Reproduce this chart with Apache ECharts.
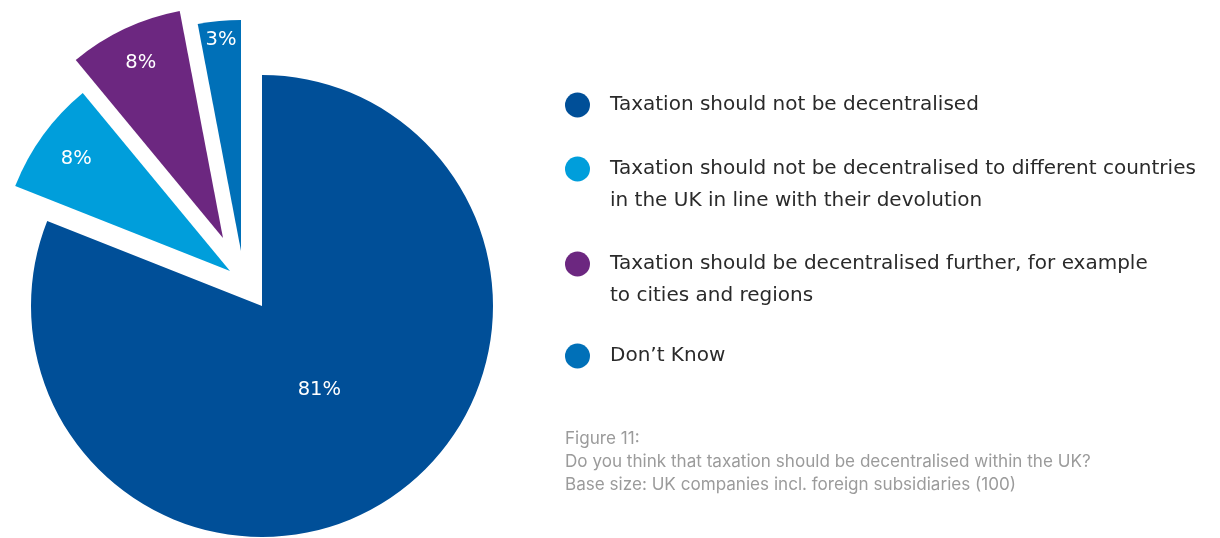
<!DOCTYPE html>
<html>
<head>
<meta charset="utf-8">
<script src="https://cdn.jsdelivr.net/npm/echarts@6/dist/echarts.min.js"></script>
<style>
  html, body { margin: 0; padding: 0; background: #ffffff; }
  #chart { width: 1220px; height: 538px; }
</style>
</head>
<body>
<div id="chart"></div>
<script>
// ---- data ----
const categories = [
  'Taxation should not be decentralised',
  'Taxation should not be decentralised to different countries\nin the UK in line with their devolution',
  'Taxation should be decentralised further, for example\nto cities and regions',
  'Don\u2019t Know'
];
const values = [81, 8, 8, 3];
const captionLines = [
  'Figure 11:',
  'Do you think that taxation should be decentralised within the UK?',
  'Base size: UK companies incl. foreign subsidiaries (100)'
];

// ---- styling / layout ----
const colors = ['#004f98', '#009edb', '#6c2780', '#0070b8'];
const radius = 231;
const centers = [[262, 306], [230, 271], [223, 238], [241, 251]];
const labelDist = [99, 187, 190, 209];
const legendTops = [89, 121, 216, 340];

const total = values.reduce((a, b) => a + b, 0);
function midAngle(idx) {
  let before = 0;
  for (let i = 0; i < idx; i++) before += values[i];
  return (before + values[idx] / 2) / total * 2 * Math.PI; // clockwise from top
}

const series = values.map((v, k) => {
  const theta = midAngle(k);
  const delta = labelDist[k] - radius / 2;
  return {
    type: 'pie',
    silent: true,
    center: centers[k],
    radius: [0, radius],
    startAngle: 90,
    clockwise: true,
    avoidLabelOverlap: false,
    animation: false,
    labelLine: { show: false },
    label: {
      position: 'inside',
      color: '#ffffff',
      fontSize: 19.5,
      fontFamily: 'DejaVu Sans, sans-serif',
      formatter: p => p.value + '%'
    },
    labelLayout: function (params) {
      if (params.dataIndex !== k) return {};
      return { dx: delta * Math.sin(theta), dy: -delta * Math.cos(theta) };
    },
    data: categories.map((name, i) => ({
      name: name,
      value: values[i],
      itemStyle: { color: i === k ? colors[i] : 'rgba(0,0,0,0)' },
      label: { show: i === k }
    }))
  };
});

const legends = categories.map((name, i) => ({
  left: 565,
  top: legendTops[i],
  padding: 0,
  orient: 'vertical',
  selectedMode: false,
  icon: 'circle',
  itemWidth: 25,
  itemHeight: 25,
  data: [{ name: name, itemStyle: { color: colors[i] } }],
  // a leading blank line keeps the marker level with the first text line
  formatter: n => (n.indexOf('\n') >= 0 ? '\n' + n : n),
  textStyle: {
    fontSize: 20,
    fontFamily: 'DejaVu Sans, sans-serif',
    color: '#2a2a2a',
    lineHeight: 32,
    padding: [0, 0, 0, 15]
  }
}));

const chart = echarts.init(document.getElementById('chart'), null, { renderer: 'canvas' });
chart.setOption({
  backgroundColor: '#ffffff',
  animation: false,
  title: {
    text: captionLines.join('\n'),
    left: 565,
    top: 427,
    padding: 0,
    textStyle: {
      fontSize: 17.1,
      fontWeight: 'normal',
      fontFamily: 'Inter, sans-serif',
      color: '#9b9b9b',
      lineHeight: 23
    }
  },
  legend: legends,
  series: series
});
</script>
</body>
</html>
